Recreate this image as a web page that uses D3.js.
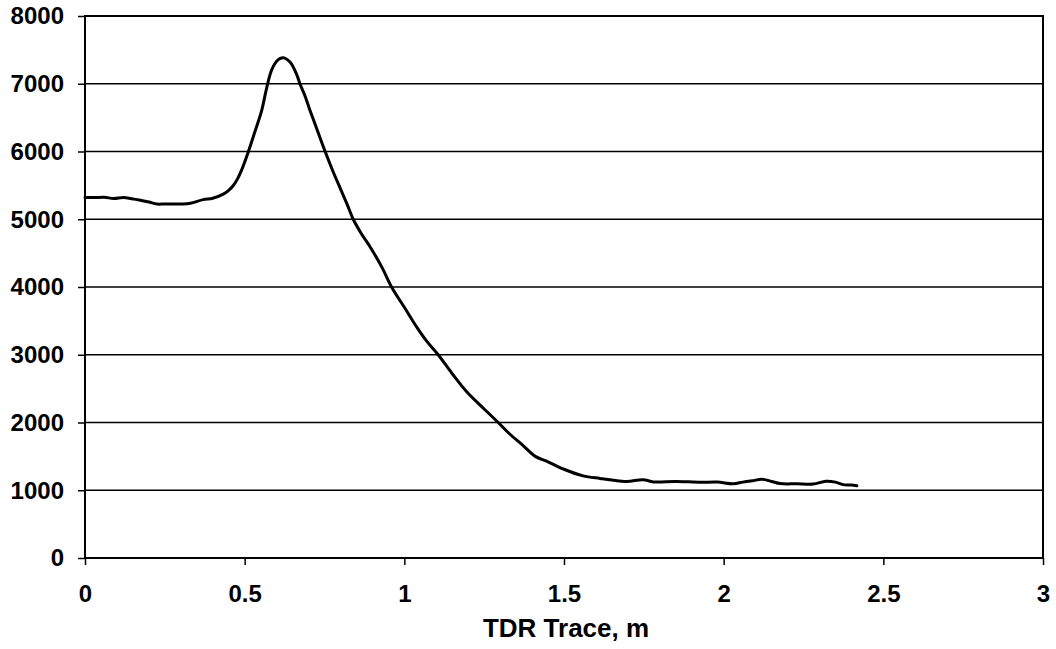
<!DOCTYPE html>
<html>
<head>
<meta charset="utf-8">
<script src="https://cdn.jsdelivr.net/npm/d3@7"></script>
<style>
  html, body { margin: 0; padding: 0; background: #fff; }
  svg { display: block; }
  text { font-family: Arial, "Liberation Sans", sans-serif; font-weight: bold; fill: #000; }
</style>
</head>
<body>
<svg id="chart" width="1056" height="649"></svg>
<script>
// ---- data ----
const traceX = [0.00,0.03,0.06,0.09,0.12,0.15,0.17,0.20,0.225,0.25,0.30,0.33,0.37,0.40,0.433,0.45,0.465,0.478,0.49,0.511,0.533,0.553,0.569,0.585,0.605,0.621,0.642,0.663,0.673,0.689,0.705,0.72,0.752,0.778,0.799,0.82,0.84,0.865,0.893,0.93,0.96,1.00,1.04,1.07,1.106,1.15,1.196,1.25,1.294,1.33,1.372,1.41,1.45,1.50,1.56,1.613,1.65,1.697,1.748,1.78,1.85,1.926,1.98,2.03,2.06,2.09,2.12,2.15,2.177,2.23,2.28,2.32,2.35,2.374,2.40,2.417];
const traceY = [5320,5320,5325,5305,5320,5300,5285,5255,5225,5225,5225,5235,5290,5310,5370,5425,5502,5600,5722,5990,6307,6600,6940,7210,7355,7385,7320,7135,7000,6820,6600,6410,6000,5690,5460,5230,5000,4790,4590,4290,4000,3700,3400,3200,3000,2720,2450,2200,2000,1830,1660,1500,1420,1310,1212,1174,1150,1129,1155,1123,1130,1118,1120,1095,1120,1140,1162,1130,1098,1095,1092,1133,1120,1083,1078,1067];
const xTicks = [0, 0.5, 1, 1.5, 2, 2.5, 3];
const yTicks = [0, 1000, 2000, 3000, 4000, 5000, 6000, 7000, 8000];
const xTitle = "TDR Trace, m";

// ---- layout ----
const svg = d3.select("#chart");
const L = 85, R = 1043, T = 16, B = 558;

const x = d3.scaleLinear().domain([0, 3]).range([L, R]);
const y = d3.scaleLinear().domain([0, 8000]).range([B, T]);

// gridlines
svg.append("g").selectAll("line").data(yTicks.filter(d => d > 0 && d < 8000)).join("line")
  .attr("x1", L).attr("x2", R)
  .attr("y1", d => y(d)).attr("y2", d => y(d))
  .attr("stroke", "#000").attr("stroke-width", 1.6);

// frame
svg.append("rect")
  .attr("x", L).attr("y", T).attr("width", R - L).attr("height", B - T)
  .attr("fill", "none").attr("stroke", "#000").attr("stroke-width", 2);

// y axis
const yAxis = d3.axisLeft(y).tickValues(yTicks).tickSize(7).tickPadding(14).tickFormat(d3.format("d"));
const gy = svg.append("g").attr("transform", `translate(${L},0)`).call(yAxis);
gy.select(".domain").remove();
gy.selectAll(".tick line").attr("stroke", "#000").attr("stroke-width", 1.5);
gy.selectAll(".tick text").style("font-size", "24px").attr("dy", "0.33em");

// x axis
const xAxis = d3.axisBottom(x).tickValues(xTicks).tickSize(7).tickPadding(20).tickFormat(d => String(d));
const gx = svg.append("g").attr("transform", `translate(0,${B})`).call(xAxis);
gx.select(".domain").remove();
gx.selectAll(".tick line").attr("stroke", "#000").attr("stroke-width", 1.5);
gx.selectAll(".tick text").style("font-size", "24px");

// x title
svg.append("text")
  .attr("x", 566).attr("y", 637)
  .attr("text-anchor", "middle")
  .style("font-size", "26px")
  .text(xTitle);

// trace line
const pts = traceX.map((d, i) => [d, traceY[i]]);
svg.append("path")
  .datum(pts)
  .attr("fill", "none")
  .attr("stroke", "#000")
  .attr("stroke-width", 3)
  .attr("stroke-linejoin", "round")
  .attr("stroke-linecap", "round")
  .attr("d", d3.line().x(d => x(d[0])).y(d => y(d[1])).curve(d3.curveCatmullRom.alpha(0.5)));
</script>
</body>
</html>
